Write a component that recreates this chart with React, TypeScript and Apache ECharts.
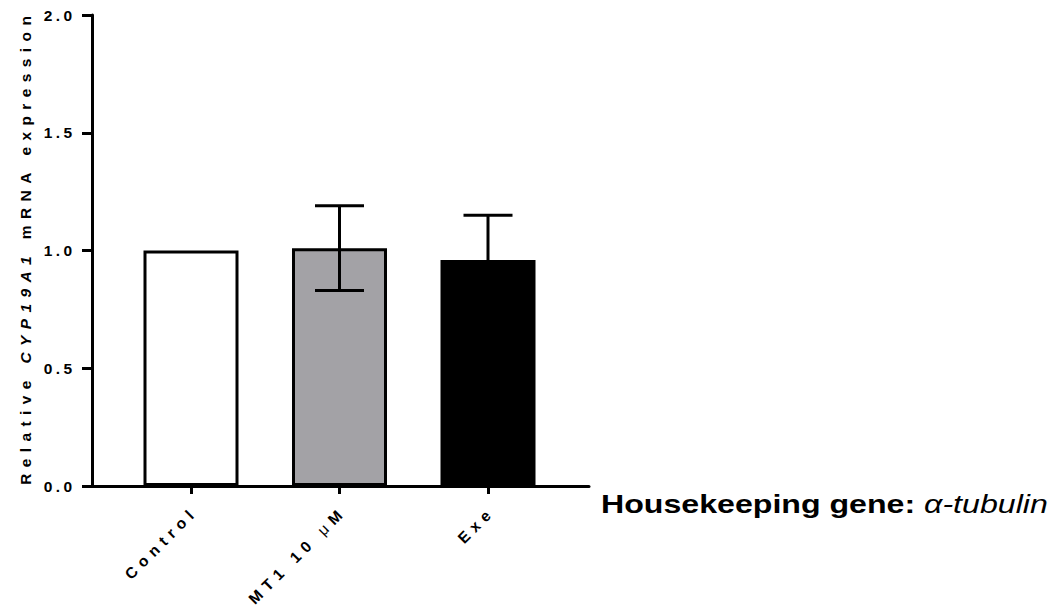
import React, { useEffect, useRef } from "react";
import * as echarts from "echarts";

const categories = ["Control", "MT1 10 μM", "Exe"];
const means = [1.0, 1.01, 0.96];
const errors = [0, 0.18, 0.19];
const barColors = ["#ffffff", "#a3a2a6", "#000000"];
const yTicks = [0, 0.5, 1.0, 1.5, 2.0];
const yMin = 0;
const yMax = 2.0;
const yInterval = 0.5;
const yAxisTitle = ["Relative", "CYP19A1", "mRNA", "expression"];
const noteBold = "Housekeeping gene:";
const noteItalic = "α-tubulin";

const FONT = "'Liberation Sans', Arial, Helvetica, sans-serif";
const SPACE_EM = 0.2778;

// builds rich text: each char in style (b or given), separated by spacer style "s"
function spaced(s: string, styleFor: (c: string) => string = () => "b") {
  return Array.from(s)
    .map((c) => `{${styleFor(c)}|${c}}`)
    .join("{s| }");
}

function richSet(fontSize: number, gap: number, lh: number, extra: any = {}) {
  return {
    b: { fontFamily: FONT, fontWeight: "bold", fontSize, color: "#000", lineHeight: lh },
    i: { fontFamily: FONT, fontWeight: "bold", fontStyle: "italic", fontSize, color: "#000", lineHeight: lh },
    m: { fontFamily: FONT, fontWeight: "normal", fontSize, color: "#000", lineHeight: lh },
    s: { fontFamily: FONT, fontSize: gap / SPACE_EM, color: "#000", lineHeight: lh },
    ...extra,
  };
}

export default function App() {
  const ref = useRef<HTMLDivElement>(null);
  useEffect(() => {
    if (!ref.current) return;
    const chart = echarts.init(ref.current, undefined, { renderer: "svg" });
    const W = 1055;
    const top = 15;
    const bottom = 606 - 486;
    const axisLeft = 92;
    const axisRight = 589;
    const c0 = 191;
    const c2 = 488;
    const band = (c2 - c0) / 2;
    const g0Left = c0 - band / 2;
    const g0Width = band * 3;

    const titleRich = yAxisTitle
      .map((w, k) => spaced(w, () => (k === 1 ? "i" : "b")))
      .join("{s| }{b| }{s| }");

    const option: any = {
      animation: false,
      backgroundColor: "#ffffff",
      grid: [
        { left: g0Left, width: g0Width, top, bottom, containLabel: false, outerBoundsMode: "none" },
        { left: axisLeft, right: W - axisRight, top, bottom, containLabel: false, outerBoundsMode: "none" },
      ],
      xAxis: [
        {
          type: "category",
          gridIndex: 0,
          data: categories,
          axisLine: { show: false },
          axisTick: {
            show: true,
            alignWithLabel: true,
            length: 8,
            lineStyle: { color: "#000", width: 3 },
          },
          axisLabel: {
            rotate: 45,
            margin: 27,
            interval: 0,
            formatter: (v: string) => spaced(v, (c) => (c === "μ" ? "m" : "b")),
            rich: richSet(15.5, 5.8, 18),
          },
        },
        {
          type: "value",
          gridIndex: 1,
          min: 0,
          max: 1,
          axisLine: { show: true, lineStyle: { color: "#000", width: 3 } },
          axisTick: { show: false },
          axisLabel: { show: false },
          splitLine: { show: false },
        },
      ],
      yAxis: [
        {
          type: "value",
          gridIndex: 0,
          min: yMin,
          max: yMax,
          interval: yInterval,
          show: false,
          splitLine: { show: false },
        },
        {
          type: "value",
          gridIndex: 1,
          min: yMin,
          max: yMax,
          interval: yInterval,
          axisLine: { show: true, lineStyle: { color: "#000", width: 3 } },
          axisTick: { show: true, length: 10, lineStyle: { color: "#000", width: 3 } },
          splitLine: { show: false },
          axisLabel: {
            margin: 20,
            formatter: (v: number) => {
              const t = yTicks.find((x) => Math.abs(x - v) < 1e-9);
              return spaced((t ?? v).toFixed(1));
            },
            rich: richSet(15.5, 3.4, 18),
          },
          name: titleRich,
          nameLocation: "middle",
          nameRotate: 90,
          nameGap: 58,
          nameTextStyle: {
            rich: richSet(15.5, 6.4, 18),
          },
        },
      ],
      series: [
        {
          type: "bar",
          xAxisIndex: 0,
          yAxisIndex: 0,
          barWidth: 95,
          data: means.map((m, i) => ({
            value: m,
            itemStyle: { color: barColors[i], borderColor: "#000", borderWidth: 3 },
          })),
          z: 2,
        },
        {
          type: "custom",
          xAxisIndex: 0,
          yAxisIndex: 0,
          z: 5,
          data: means.map((m, i) => [i, m, errors[i]]),
          renderItem: (params: any, api: any) => {
            const idx = api.value(0);
            const m = api.value(1);
            const e = api.value(2);
            if (!e) return { type: "group", children: [] };
            const hi = api.coord([idx, m + e]);
            const lo = api.coord([idx, m - e]);
            const half = 24.5;
            const style = { stroke: "#000", lineWidth: 3 };
            return {
              type: "group",
              children: [
                { type: "line", shape: { x1: hi[0], y1: hi[1], x2: lo[0], y2: lo[1] }, style },
                { type: "line", shape: { x1: hi[0] - half, y1: hi[1], x2: hi[0] + half, y2: hi[1] }, style },
                { type: "line", shape: { x1: lo[0] - half, y1: lo[1], x2: lo[0] + half, y2: lo[1] }, style },
              ],
            };
          },
        },
      ],
      graphic: [
        {
          type: "text",
          x: 601,
          y: 491,
          scaleX: 1.285,
          scaleY: 1.02,
          style: {
            text: `{b|${noteBold} }{i|${noteItalic}}`,
            verticalAlign: "top",
            rich: {
              b: { fontFamily: FONT, fontWeight: "bold", fontSize: 25, fill: "#000" },
              i: { fontFamily: FONT, fontStyle: "italic", fontSize: 25, fill: "#000" },
            },
          },
        },
      ],
    };
    chart.setOption(option);
    return () => chart.dispose();
  }, []);
  return (
    <div
      ref={ref}
      style={{ position: "fixed", left: 0, top: 0, width: 1055, height: 606, background: "#fff" }}
    />
  );
}
